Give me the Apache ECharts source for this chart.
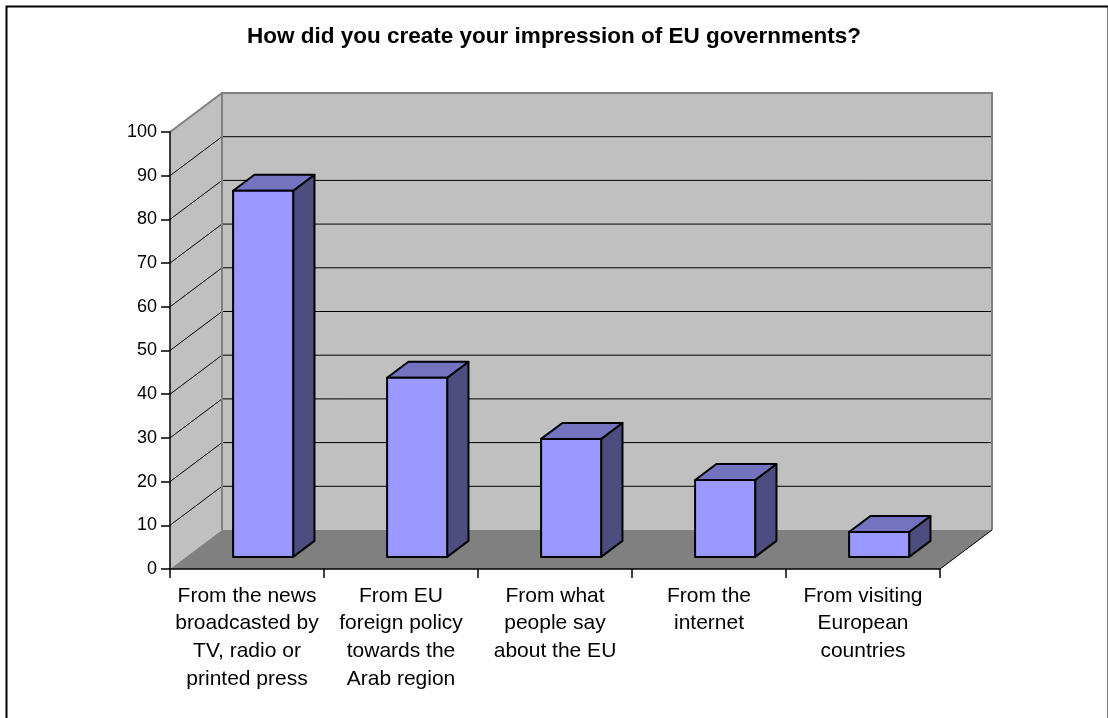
<!DOCTYPE html>
<html>
<head>
<meta charset="utf-8">
<script src="https://cdn.jsdelivr.net/npm/echarts@6/dist/echarts.min.js"></script>
<style>
  html, body { margin: 0; padding: 0; background: #ffffff; }
  #chart { width: 1108px; height: 718px; }
</style>
</head>
<body>
<div id="chart"></div>
<script>
// Survey: sources of impression of EU governments (percent of respondents)
const chartTitle = 'How did you create your impression of EU governments?';
const categories = [
  'From the news\nbroadcasted by\nTV, radio or\nprinted press',
  'From EU\nforeign policy\ntowards the\nArab region',
  'From what\npeople say\nabout the EU',
  'From the\ninternet',
  'From visiting\nEuropean\ncountries'
];
const shares = [83.8, 41.0, 27.0, 17.6, 5.7];
const gridLevels = [10, 20, 30, 40, 50, 60, 70, 80, 90];
const axisMin = 0;
const axisMax = 100;
const axisStep = 10;

// Oblique projection of the 3D box: depth goes right and up (pixels)
const DEPTH_X = 52;
const DEPTH_Y = -39;
// Bars sit in the middle of the depth; width as a share of the category band
const BAR_FRONT = 0.31;
const BAR_BACK = 0.72;
const BAR_WIDTH = 0.39;

function renderWalls(params, api) {
  const cs = params.coordSys;
  const x0 = cs.x;
  const x1 = cs.x + cs.width;
  const yBase = api.coord([0, axisMin])[1];
  const yTop = api.coord([0, axisMax])[1];
  const dx = DEPTH_X, dy = DEPTH_Y;
  const children = [];

  // left side wall
  children.push({
    type: 'polygon',
    shape: { points: [[x0, yTop], [x0 + dx, yTop + dy], [x0 + dx, yBase + dy], [x0, yBase]] },
    style: { fill: '#c0c0c0' }
  });
  // back wall
  children.push({
    type: 'rect',
    shape: { x: x0 + dx, y: yTop + dy, width: x1 - x0, height: yBase - yTop },
    style: { fill: '#c0c0c0' }
  });
  // floor
  children.push({
    type: 'polygon',
    shape: { points: [[x0, yBase], [x1, yBase], [x1 + dx, yBase + dy], [x0 + dx, yBase + dy]] },
    style: { fill: '#808080' }
  });
  // gridlines running along the side wall and across the back wall
  gridLevels.forEach(function (v) {
    const y = api.coord([0, v])[1];
    children.push({
      type: 'polyline',
      shape: { points: [[x0, y], [x0 + dx, y + dy], [x1 + dx, y + dy]] },
      style: { stroke: '#000000', lineWidth: 1, fill: null }
    });
  });
  // wall outlines
  children.push({
    type: 'polyline',
    shape: { points: [[x0, yTop], [x0 + dx, yTop + dy], [x1 + dx, yTop + dy], [x1 + dx, yBase + dy]] },
    style: { stroke: '#808080', lineWidth: 2, fill: null }
  });
  children.push({
    type: 'line',
    shape: { x1: x0 + dx, y1: yTop + dy, x2: x0 + dx, y2: yBase + dy },
    style: { stroke: '#808080', lineWidth: 2 }
  });
  // right edge of the floor
  children.push({
    type: 'line',
    shape: { x1: x1, y1: yBase, x2: x1 + dx, y2: yBase + dy },
    style: { stroke: '#000000', lineWidth: 1 }
  });
  return { type: 'group', children: children };
}

function renderBar(params, api) {
  const i = api.value(0);
  const v = api.value(1);
  const base = api.coord([i, axisMin]);
  const top = api.coord([i, v]);
  const band = api.size([1, 0])[0];
  const w = band * BAR_WIDTH;
  const fx = base[0] - w / 2 + BAR_FRONT * DEPTH_X;
  const fyBase = base[1] + BAR_FRONT * DEPTH_Y;
  const fyTop = top[1] + BAR_FRONT * DEPTH_Y;
  const ddx = (BAR_BACK - BAR_FRONT) * DEPTH_X;
  const ddy = (BAR_BACK - BAR_FRONT) * DEPTH_Y;
  const edge = { stroke: '#000000', lineWidth: 2, lineJoin: 'round' };
  return {
    type: 'group',
    children: [
      {
        type: 'polygon',
        shape: { points: [[fx + w, fyTop], [fx + w + ddx, fyTop + ddy], [fx + w + ddx, fyBase + ddy], [fx + w, fyBase]] },
        style: Object.assign({ fill: '#4d4d80' }, edge)
      },
      {
        type: 'polygon',
        shape: { points: [[fx, fyTop], [fx + w, fyTop], [fx + w + ddx, fyTop + ddy], [fx + ddx, fyTop + ddy]] },
        style: Object.assign({ fill: '#7373bf' }, edge)
      },
      {
        type: 'rect',
        shape: { x: fx, y: fyTop, width: w, height: fyBase - fyTop },
        style: Object.assign({ fill: '#9999ff' }, edge)
      }
    ]
  };
}

const chart = echarts.init(document.getElementById('chart'), null, { renderer: 'canvas' });

chart.setOption({
  animation: false,
  backgroundColor: '#ffffff',
  title: {
    text: chartTitle,
    left: 'center',
    top: 25,
    padding: 0,
    textStyle: {
      fontFamily: 'Liberation Sans, Arial, sans-serif',
      fontSize: 22.5,
      fontWeight: 'bold',
      color: '#000000'
    }
  },
  graphic: [{
    type: 'rect',
    left: 4,
    top: 4,
    shape: { width: 1102, height: 716 },
    style: { fill: null, stroke: '#000000', lineWidth: 2 },
    z: 100
  }],
  grid: {
    left: 170,
    top: 132,
    width: 770,
    height: 437,
    containLabel: false
  },
  xAxis: {
    type: 'category',
    data: categories,
    z: 10,
    axisLine: { show: true, lineStyle: { color: '#000000', width: 1.5 } },
    axisTick: { show: true, length: 9, alignWithLabel: false, lineStyle: { color: '#000000', width: 1.5 } },
    axisLabel: {
      interval: 0,
      margin: 13,
      color: '#000000',
      fontFamily: 'Liberation Sans, Arial, sans-serif',
      fontSize: 21,
      lineHeight: 27.7,
      align: 'center'
    },
    splitLine: { show: false }
  },
  yAxis: {
    type: 'value',
    min: axisMin,
    max: axisMax,
    interval: axisStep,
    z: 10,
    axisLine: { show: true, lineStyle: { color: '#000000', width: 1.5 } },
    axisTick: { show: true, length: 9, lineStyle: { color: '#000000', width: 1.5 } },
    axisLabel: {
      margin: 13,
      color: '#000000',
      fontFamily: 'Liberation Sans, Arial, sans-serif',
      fontSize: 18
    },
    splitLine: { show: false }
  },
  series: [
    {
      type: 'custom',
      name: 'walls',
      z: 1,
      clip: false,
      silent: true,
      data: [[0, 0]],
      renderItem: renderWalls
    },
    {
      type: 'custom',
      name: 'shares',
      z: 2,
      clip: false,
      data: shares.map(function (v, i) { return [i, v]; }),
      encode: { x: 0, y: 1 },
      renderItem: renderBar
    }
  ]
});
</script>
</body>
</html>
